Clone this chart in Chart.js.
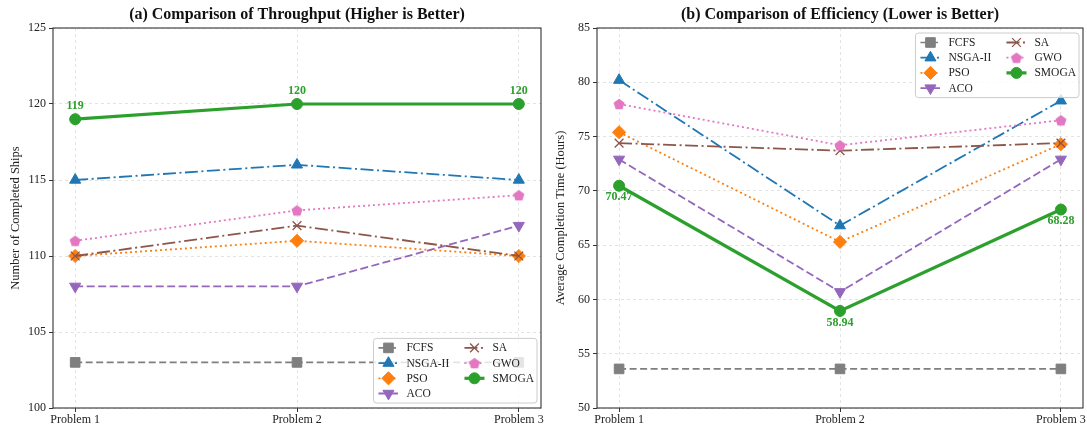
<!DOCTYPE html>
<html>
<head>
<meta charset="utf-8">
<script src="https://cdn.jsdelivr.net/npm/chart.js@4.4.0/dist/chart.umd.min.js"></script>
<style>
  html, body { margin: 0; padding: 0; background: #ffffff; }
  #wrap { position: relative; width: 1087px; height: 428px; overflow: hidden; }
  .panel { position: absolute; top: 0; height: 428px; }
  #panelA { left: 0; width: 545px; }
  #panelB { left: 545px; width: 542px; }
</style>
</head>
<body>
<div id="wrap">
  <div class="panel" id="panelA"><canvas id="chartA" width="545" height="428"></canvas></div>
  <div class="panel" id="panelB"><canvas id="chartB" width="542" height="428"></canvas></div>
</div>
<script>
// ---- data ----
const problems = ['Problem 1', 'Problem 2', 'Problem 3'];
const methods = ['FCFS', 'NSGA-II', 'PSO', 'ACO', 'SA', 'GWO', 'SMOGA'];

// (a) throughput: number of completed ships
const thrFCFS  = [103, 103, 103];
const thrNSGA2 = [115, 116, 115];
const thrPSO   = [110, 111, 110];
const thrACO   = [108, 108, 112];
const thrSA    = [110, 112, 110];
const thrGWO   = [111, 113, 114];
const thrSMOGA = [119, 120, 120];

// (b) efficiency: average completion time in hours
const effFCFS  = [53.6, 53.6, 53.6];
const effNSGA2 = [80.2, 66.8, 78.3];
const effPSO   = [75.4, 65.3, 74.3];
const effACO   = [72.9, 60.7, 72.9];
const effSA    = [74.4, 73.7, 74.4];
const effGWO   = [78.0, 74.2, 76.5];
const effSMOGA = [70.47, 58.94, 68.28];

const throughputTicks = [100, 105, 110, 115, 120, 125];
const efficiencyTicks = [50, 55, 60, 65, 70, 75, 80, 85];

// ---- styling ----
const SERIF = '"Liberation Serif", "Times New Roman", "DejaVu Serif", serif';

function pentagonMarker(r, color) {
  const size = Math.ceil(2 * r + 2);
  const c = document.createElement('canvas');
  c.width = size; c.height = size;
  const g = c.getContext('2d');
  g.fillStyle = color;
  g.beginPath();
  for (let i = 0; i < 5; i++) {
    const a = -Math.PI / 2 + i * 2 * Math.PI / 5;
    const px = size / 2 + r * Math.cos(a);
    const py = size / 2 + r * Math.sin(a) + 0.6;
    if (i === 0) g.moveTo(px, py); else g.lineTo(px, py);
  }
  g.closePath();
  g.fill();
  return c;
}

const seriesStyle = {
  'FCFS':    { color: '#7f7f7f', dash: [7, 3.5],           width: 1.6, point: 'rect',     radius: 6.8, rotation: 0 },
  'NSGA-II': { color: '#1f77b4', dash: [13, 3.5, 2, 3.5],  width: 1.8, point: 'triangle', radius: 6.4, rotation: 0 },
  'PSO':     { color: '#ff7f0e', dash: [2, 3],             width: 1.8, point: 'rectRot',  radius: 6.6, rotation: 0 },
  'ACO':     { color: '#9467bd', dash: [8, 3.5],           width: 1.8, point: 'triangle', radius: 6.4, rotation: 180 },
  'SA':      { color: '#8c564b', dash: [13, 3.5, 2, 3.5],  width: 1.8, point: 'crossRot', radius: 6.2, rotation: 0, pointBorder: 1.3 },
  'GWO':     { color: '#e377c2', dash: [2, 3],             width: 1.8, point: pentagonMarker(5.8, '#e377c2'), radius: 6, rotation: 0 },
  'SMOGA':   { color: '#2ca02c', dash: [],                 width: 3.2, point: 'circle',   radius: 5.5, rotation: 0 }
};

function buildDatasets(seriesList) {
  return methods.map((name, k) => {
    const s = seriesStyle[name];
    return {
      label: name,
      data: seriesList[k].map((v, i) => ({ x: i, y: v })),
      borderColor: s.color,
      backgroundColor: s.color,
      borderWidth: s.width,
      borderDash: s.dash,
      pointStyle: s.point,
      pointRadius: s.radius,
      pointRotation: s.rotation,
      pointBackgroundColor: s.color,
      pointBorderColor: s.color,
      pointBorderWidth: s.pointBorder || 1,
      tension: 0,
      fill: false,
      order: methods.length - k
    };
  });
}

// ---- plugins ----
const panelTitle = {
  id: 'panelTitle',
  afterDraw(chart, args, opts) {
    const { ctx, chartArea: a } = chart;
    ctx.save();
    ctx.font = 'bold 16px ' + SERIF;
    ctx.fillStyle = '#111';
    ctx.textAlign = 'center';
    ctx.textBaseline = 'middle';
    ctx.fillText(opts.text, (a.left + a.right) / 2, 15);
    ctx.restore();
  }
};

const frameBox = {
  id: 'frameBox',
  afterDatasetsDraw(chart) {
    const { ctx, chartArea: a } = chart;
    ctx.save();
    ctx.strokeStyle = '#333';
    ctx.lineWidth = 1.1;
    ctx.strokeRect(a.left, a.top, a.right - a.left, a.bottom - a.top);
    ctx.restore();
  }
};

const valueLabels = {
  id: 'valueLabels',
  afterDatasetsDraw(chart, args, opts) {
    const { ctx } = chart;
    const idx = chart.data.datasets.findIndex(d => d.label === opts.series);
    const meta = chart.getDatasetMeta(idx);
    const ds = chart.data.datasets[idx];
    ctx.save();
    ctx.font = 'bold 12px ' + SERIF;
    ctx.fillStyle = ds.borderColor;
    ctx.textAlign = 'center';
    ctx.textBaseline = 'middle';
    meta.data.forEach((pt, i) => {
      ctx.fillText(opts.format(ds.data[i].y), pt.x, pt.y + opts.dy);
    });
    ctx.restore();
  }
};

const boxLegend = {
  id: 'boxLegend',
  afterDraw(chart, args, opts) {
    const { ctx, chartArea: a } = chart;
    const sets = chart.data.datasets;
    const columns = [[0, 1, 2, 3], [4, 5, 6]];
    const rowH = 15.2, padTop = 1.4, padX = 5, handle = 20, textOff = 28, colW = 86;
    ctx.save();
    ctx.font = '11.5px ' + SERIF;
    let lastColText = 0;
    columns[1].forEach(i => { lastColText = Math.max(lastColText, ctx.measureText(sets[i].label).width); });
    const w = padX + colW + textOff + lastColText + 3;
    const h = padTop * 2 + rowH * 4 + 1;
    const inset = 4;
    const left = a.right - inset - w;
    const top = opts.corner === 'lower' ? a.bottom - inset - h - 1 : a.top + inset + 1;

    // frame
    const r = 3;
    ctx.beginPath();
    ctx.moveTo(left + r, top);
    ctx.arcTo(left + w, top, left + w, top + h, r);
    ctx.arcTo(left + w, top + h, left, top + h, r);
    ctx.arcTo(left, top + h, left, top, r);
    ctx.arcTo(left, top, left + w, top, r);
    ctx.closePath();
    ctx.fillStyle = 'rgba(255,255,255,0.8)';
    ctx.fill();
    ctx.strokeStyle = '#cccccc';
    ctx.lineWidth = 1;
    ctx.stroke();

    columns.forEach((col, c) => {
      col.forEach((i, rIdx) => {
        const ds = sets[i];
        const hx = left + padX + c * colW;
        const hy = top + padTop + rowH * (rIdx + 0.5) + 0.5;
        ctx.save();
        ctx.strokeStyle = ds.borderColor;
        ctx.lineWidth = ds.borderWidth;
        ctx.setLineDash(ds.borderDash);
        ctx.beginPath();
        ctx.moveTo(hx, hy);
        ctx.lineTo(hx + handle, hy);
        ctx.stroke();
        ctx.setLineDash([]);
        ctx.fillStyle = ds.pointBackgroundColor;
        ctx.strokeStyle = ds.pointBorderColor;
        ctx.lineWidth = ds.pointBorderWidth;
        Chart.helpers.drawPoint(ctx, {
          pointStyle: ds.pointStyle,
          rotation: ds.pointRotation,
          radius: ds.pointRadius,
          borderWidth: ds.pointBorderWidth
        }, hx + handle / 2, hy);
        ctx.restore();
        ctx.fillStyle = '#222';
        ctx.textAlign = 'left';
        ctx.textBaseline = 'middle';
        ctx.fillText(ds.label, hx + textOff, hy + 0.5);
      });
    });
    ctx.restore();
  }
};

// ---- chart factory ----
function makeChart(canvasId, seriesList, yTicks, yTitle, yAxisWidth, title, legendCorner, labelCfg) {
  return new Chart(document.getElementById(canvasId), {
    type: 'line',
    data: { datasets: buildDatasets(seriesList) },
    plugins: [panelTitle, frameBox, valueLabels, boxLegend],
    options: {
      responsive: false,
      animation: false,
      devicePixelRatio: 1,
      layout: { autoPadding: false, padding: { top: 28, right: 4, bottom: 0, left: 0 } },
      scales: {
        x: {
          type: 'linear',
          min: -0.1,
          max: 2.1,
          afterBuildTicks: s => { s.ticks = problems.map((p, i) => ({ value: i })); },
          afterFit: s => { s.height = 20; s.paddingLeft = 0; s.paddingRight = 0; },
          ticks: {
            callback: v => problems[v] !== undefined ? problems[v] : '',
            font: { family: SERIF, size: 12 },
            color: '#222',
            padding: 1,
            maxRotation: 0,
            autoSkip: false
          },
          grid: { color: 'rgba(0,0,0,0.14)', lineWidth: 0.8, tickColor: '#333', tickLength: 4, tickWidth: 1, tickBorderDash: [] },
          border: { display: false, dash: [3, 3] }
        },
        y: {
          type: 'linear',
          min: yTicks[0],
          max: yTicks[yTicks.length - 1],
          afterBuildTicks: s => { s.ticks = yTicks.map(v => ({ value: v })); },
          afterFit: s => { s.width = yAxisWidth; s.paddingTop = 0; s.paddingBottom = 0; },
          ticks: {
            font: { family: SERIF, size: 12 },
            color: '#222',
            padding: 3
          },
          grid: { color: 'rgba(0,0,0,0.14)', lineWidth: 0.8, tickColor: '#333', tickLength: 4, tickWidth: 1, tickBorderDash: [] },
          border: { display: false, dash: [3, 3] },
          title: {
            display: true,
            text: yTitle,
            font: { family: SERIF, size: 12.5 },
            color: '#222',
            padding: { top: 8, bottom: 0 }
          }
        }
      },
      plugins: {
        legend: { display: false },
        tooltip: { enabled: false },
        panelTitle: { text: title },
        boxLegend: { corner: legendCorner },
        valueLabels: labelCfg
      }
    }
  });
}

makeChart('chartA',
  [thrFCFS, thrNSGA2, thrPSO, thrACO, thrSA, thrGWO, thrSMOGA],
  throughputTicks, 'Number of Completed Ships', 53,
  '(a) Comparison of Throughput (Higher is Better)', 'lower',
  { series: 'SMOGA', dy: -13, format: v => String(v) });

makeChart('chartB',
  [effFCFS, effNSGA2, effPSO, effACO, effSA, effGWO, effSMOGA],
  efficiencyTicks, 'Average Completion Time (Hours)', 52,
  '(b) Comparison of Efficiency (Lower is Better)', 'upper',
  { series: 'SMOGA', dy: 11.5, format: v => v.toFixed(2) });
</script>
</body>
</html>
